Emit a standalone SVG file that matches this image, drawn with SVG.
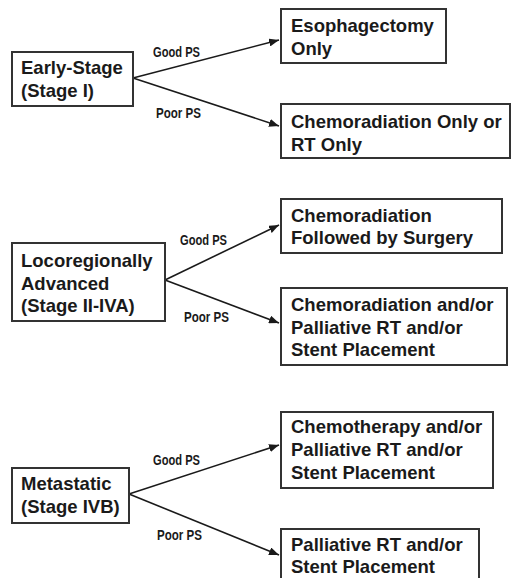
<svg xmlns="http://www.w3.org/2000/svg" width="511" height="578" viewBox="0 0 511 578">
  <style>
    .box { fill: #ffffff; stroke: #333333; stroke-width: 2; }
    .txt { font-family: "Liberation Sans", Arial, sans-serif; font-weight: bold; font-size: 18.5px; fill: #1a1a1a; }
    .lbl { font-family: "Liberation Sans", Arial, sans-serif; font-weight: bold; font-size: 14px; fill: #1a1a1a; }
    .edge { stroke: #1a1a1a; stroke-width: 1.6; fill: none; marker-end: url(#arrow); }
  </style>
  <defs>
    <marker id="arrow" viewBox="0 0 10 8" refX="10" refY="4" markerWidth="10" markerHeight="8" markerUnits="userSpaceOnUse" orient="auto">
      <path d="M0,0 L10,4 L0,8 Z" fill="#1a1a1a"/>
    </marker>
  </defs>
  <rect width="511" height="578" fill="#ffffff"/>

  <!-- connectors -->
  <g id="connectors">
    <line class="edge" x1="133" y1="78" x2="279" y2="40"/>
    <line class="edge" x1="133" y1="78" x2="279" y2="126"/>
    <line class="edge" x1="165" y1="280" x2="279" y2="225"/>
    <line class="edge" x1="165" y1="280" x2="279" y2="323"/>
    <line class="edge" x1="129" y1="494" x2="279" y2="445"/>
    <line class="edge" x1="129" y1="494" x2="279" y2="555"/>
    <text class="lbl" x="153" y="57" textLength="47" lengthAdjust="spacingAndGlyphs">Good PS</text>
    <text class="lbl" x="156" y="118" textLength="45" lengthAdjust="spacingAndGlyphs">Poor PS</text>
    <text class="lbl" x="180" y="245" textLength="47" lengthAdjust="spacingAndGlyphs">Good PS</text>
    <text class="lbl" x="184" y="322" textLength="45" lengthAdjust="spacingAndGlyphs">Poor PS</text>
    <text class="lbl" x="153" y="465" textLength="47" lengthAdjust="spacingAndGlyphs">Good PS</text>
    <text class="lbl" x="157" y="540" textLength="45" lengthAdjust="spacingAndGlyphs">Poor PS</text>
  </g>

  <!-- stage nodes -->
  <g id="early-stage">
    <rect class="box" x="12" y="52" width="121" height="54"/>
    <text class="txt" x="21" y="74">Early-Stage</text>
    <text class="txt" x="21" y="96.5">(Stage I)</text>
  </g>
  <g id="locoregional">
    <rect class="box" x="12" y="243" width="153" height="78"/>
    <text class="txt" x="21" y="267">Locoregionally</text>
    <text class="txt" x="21" y="289.5">Advanced</text>
    <text class="txt" x="21" y="312">(Stage II-IVA)</text>
  </g>
  <g id="metastatic">
    <rect class="box" x="12" y="468" width="117" height="55"/>
    <text class="txt" x="21" y="490">Metastatic</text>
    <text class="txt" x="21" y="513">(Stage IVB)</text>
  </g>

  <!-- treatment nodes -->
  <g id="esophagectomy">
    <rect class="box" x="281" y="9" width="165" height="54"/>
    <text class="txt" x="291" y="32">Esophagectomy</text>
    <text class="txt" x="291" y="55">Only</text>
  </g>
  <g id="chemoradiation-only">
    <rect class="box" x="281" y="104" width="229" height="54"/>
    <text class="txt" x="291" y="128">Chemoradiation Only or</text>
    <text class="txt" x="291" y="150.5">RT Only</text>
  </g>
  <g id="chemoradiation-surgery">
    <rect class="box" x="281" y="199" width="221" height="54"/>
    <text class="txt" x="291" y="221.5">Chemoradiation</text>
    <text class="txt" x="291" y="243.5">Followed by Surgery</text>
  </g>
  <g id="chemoradiation-palliative">
    <rect class="box" x="281" y="288" width="226" height="77"/>
    <text class="txt" x="291" y="311">Chemoradiation and/or</text>
    <text class="txt" x="291" y="333.5">Palliative RT and/or</text>
    <text class="txt" x="291" y="356">Stent Placement</text>
  </g>
  <g id="chemotherapy-palliative">
    <rect class="box" x="281" y="412" width="212" height="76"/>
    <text class="txt" x="291" y="433">Chemotherapy and/or</text>
    <text class="txt" x="291" y="456">Palliative RT and/or</text>
    <text class="txt" x="291" y="479">Stent Placement</text>
  </g>
  <g id="palliative-stent">
    <rect class="box" x="281" y="529" width="198" height="60"/>
    <text class="txt" x="291" y="550.5">Palliative RT and/or</text>
    <text class="txt" x="291" y="573">Stent Placement</text>
  </g>
</svg>
